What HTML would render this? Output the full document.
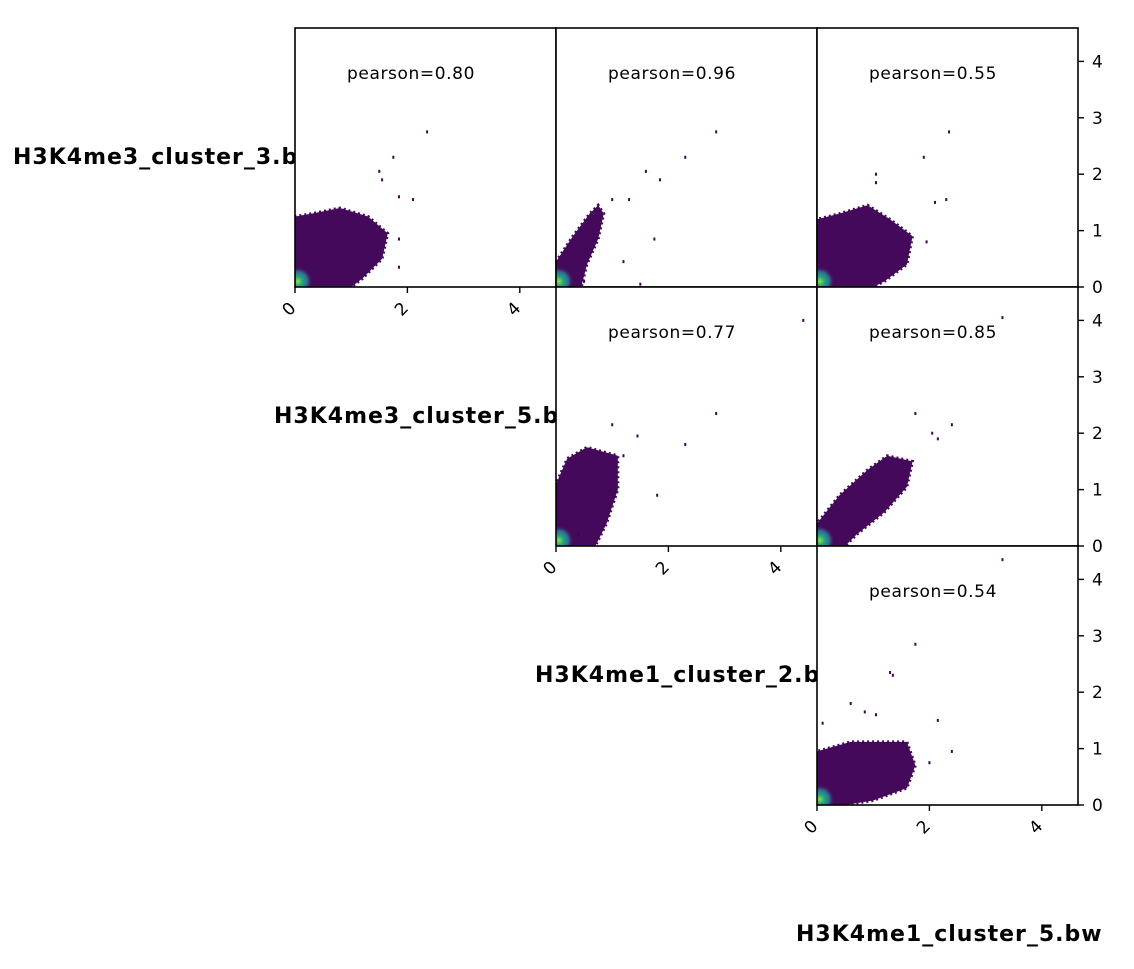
<!DOCTYPE html>
<html><head><meta charset="utf-8"><style>
body{margin:0;background:#fff;width:1134px;height:964px;overflow:hidden}
svg text{font-family:"DejaVu Sans","Liberation Sans",sans-serif}
</style></head><body>
<svg id="chart" width="1134" height="964"></svg>
<script>
const names=["H3K4me3_cluster_3.bw","H3K4me3_cluster_5.bw","H3K4me1_cluster_2.bw","H3K4me1_cluster_5.bw"];
const pearson=[["0.80","0.96","0.55"],[null,"0.77","0.85"],[null,null,"0.54"]];
const ticks=[0,1,2,3,4];
const xticks=[0,2,4];
// cloud outlines per panel (data units, x,y)
const cloud00=[[0,0],[0,1.25],[0.3,1.3],[0.8,1.4],[1.3,1.25],[1.65,0.95],[1.55,0.5],[1.2,0.15],[1.0,0]];
const cloud01=[[0,0],[0,0.45],[0.3,0.9],[0.6,1.3],[0.75,1.45],[0.85,1.3],[0.75,0.85],[0.55,0.4],[0.45,0]];
const cloud02=[[0,0],[0,1.2],[0.4,1.3],[0.9,1.45],[1.3,1.2],[1.7,0.9],[1.6,0.4],[1.2,0.1],[1.0,0]];
const cloud11=[[0,0],[0,1.1],[0.2,1.55],[0.55,1.75],[1.1,1.6],[1.1,1.0],[0.9,0.4],[0.7,0]];
const cloud12=[[0,0],[0,0.4],[0.4,0.9],[0.9,1.35],[1.25,1.6],[1.7,1.5],[1.6,1.05],[1.2,0.6],[0.7,0.2],[0.5,0]];
const cloud22=[[0,0],[0,0.95],[0.6,1.12],[1.6,1.12],[1.75,0.7],[1.6,0.3],[1.0,0.08],[0.5,0]];
const out00=[[2.35,2.75],[1.75,2.3],[1.5,2.05],[1.55,1.9],[2.1,1.55],[1.85,1.6],[1.85,0.85],[1.85,0.35]];
const out01=[[2.85,2.75],[2.3,2.3],[1.6,2.05],[1.85,1.9],[1.3,1.55],[1.0,1.55],[1.75,0.85],[1.2,0.45],[0.5,0.1],[1.5,0.05]];
const out02=[[2.35,2.75],[1.9,2.3],[1.05,2.0],[1.05,1.85],[2.3,1.55],[2.1,1.5],[1.95,0.8]];
const out11=[[4.4,4.0],[2.85,2.35],[2.3,1.8],[1.45,1.95],[1.0,2.15],[1.2,1.6],[1.8,0.9],[0.4,0.2]];
const out12=[[3.3,4.05],[1.75,2.35],[2.05,2.0],[2.15,1.9],[2.4,2.15]];
const out22=[[3.3,4.35],[1.75,2.85],[1.3,2.35],[1.35,2.3],[0.6,1.8],[0.85,1.65],[1.05,1.6],[2.15,1.5],[2.4,0.95],[2.0,0.75],[0.1,1.45]];
const panels=[[0,0,cloud00,out00],[0,1,cloud01,out01],[0,2,cloud02,out02],[1,1,cloud11,out11],[1,2,cloud12,out12],[2,2,cloud22,out22]];
const NS="http://www.w3.org/2000/svg";
const svg=document.getElementById('chart');
function mk(t,a,p){const e=document.createElementNS(NS,t);for(const k in a)e.setAttribute(k,a[k]);(p||svg).appendChild(e);return e;}
const colX=[295,556,817], rowY=[28,287,546], PW=261, PH=259, SX=56.2, SY=56.4;
const sx=(c,v)=>colX[c]+v*SX, sy=(r,v)=>rowY[r]+PH-v*SY;
const defs=mk('defs',{});
const rg=mk('radialGradient',{id:'core'},defs);
mk('stop',{offset:'0','stop-color':'#a0da39'},rg);
mk('stop',{offset:'0.3','stop-color':'#22a884'},rg);
mk('stop',{offset:'0.65','stop-color':'#31688e'},rg);
mk('stop',{offset:'1','stop-color':'#46075a','stop-opacity':'0'},rg);
// row labels
for(let r=0;r<3;r++){
  const t=mk('text',{x:colX[r]-282,y:rowY[r]+136,'font-size':'22','font-weight':'bold','letter-spacing':'1'});
  t.textContent=names[r];
  
  
}
const bl=mk('text',{x:796,y:941,'font-size':'22','font-weight':'bold','letter-spacing':'1'});
bl.textContent=names[3];


panels.forEach(([r,c,cl,out])=>{
  const g=mk('g',{});
  
  
  const cid='clip'+r+c;
  const cp=mk('clipPath',{id:cid},defs);
  mk('rect',{x:colX[c],y:rowY[r],width:PW,height:PH},cp);
  mk('rect',{x:colX[c],y:rowY[r],width:PW,height:PH,fill:'#fff'},g);
  const cg=mk('g',{'clip-path':'url(#'+cid+')'},g);
  const poly=mk('polygon',{points:cl.map(p=>sx(c,p[0])+','+sy(r,p[1])).join(' '),fill:'#44095a',stroke:'#44095a','stroke-width':3,'stroke-dasharray':'2 3'},cg);
  
  
  mk('ellipse',{cx:sx(c,0.05),cy:sy(r,0.1),rx:15,ry:15,fill:'url(#core)'},cg);
  out.forEach(p=>{
    const d=mk('rect',{x:sx(c,p[0])-1,y:sy(r,p[1])-1.5,width:2,height:3,fill:'#440154'},cg);
    
    
  });
  mk('rect',{x:colX[c],y:rowY[r],width:PW,height:PH,fill:'none',stroke:'#000','stroke-width':1.6},g);
  const pt=mk('text',{x:colX[c]+52,y:rowY[r]+51,'font-size':'17','letter-spacing':'0.6'},g);
  pt.textContent='pearson='+pearson[r][c];
  
  
  if(r===c){
    xticks.forEach(v=>{
      const x=sx(c,v), y=rowY[r]+PH;
      mk('line',{x1:x,x2:x,y1:y,y2:y+6,stroke:'#000','stroke-width':1.4},g);
      const t=mk('text',{x:0,y:0,'text-anchor':'middle','font-size':'17',transform:`translate(${x-2},${y+26}) rotate(-45)`},g);
      t.textContent=v;
      
      
    });
  }
  if(c===2){
    ticks.forEach(v=>{
      const y=sy(r,v), x=colX[2]+PW;
      mk('line',{x1:x,x2:x+6,y1:y,y2:y,stroke:'#000','stroke-width':1.4},g);
      const t=mk('text',{x:x+14,y:y+6,'font-size':'17'},g);
      t.textContent=v;
      
      
    });
  }
});
</script>
</body></html>
